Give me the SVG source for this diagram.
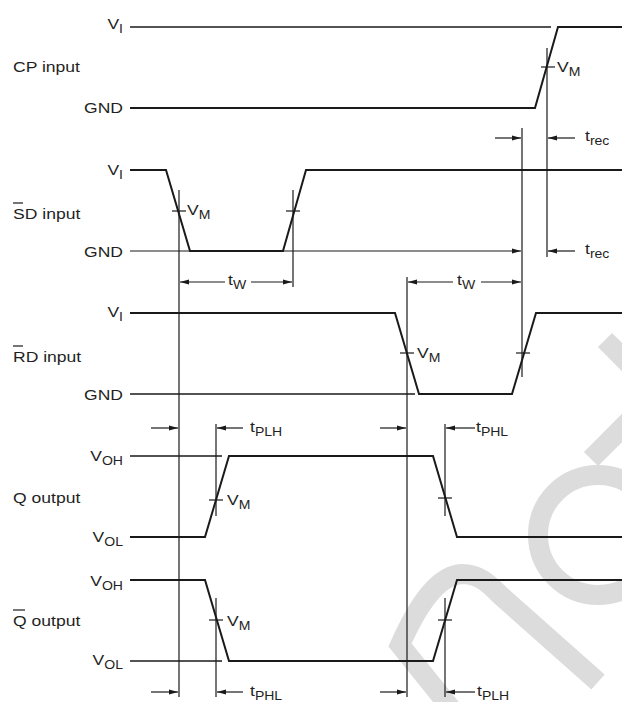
<svg xmlns="http://www.w3.org/2000/svg" width="622" height="702" viewBox="0 0 622 702">
<style>
.wave{fill:none;stroke:#1a1a1a;stroke-width:2;stroke-linejoin:miter}
.ref{fill:none;stroke:#1a1a1a;stroke-width:1.3}
.thin{fill:none;stroke:#1a1a1a;stroke-width:1.2}
.arr{fill:none;stroke:#1a1a1a;stroke-width:1.2;marker-end:url(#ah)}
.lbl{font-family:"Liberation Sans",Arial,sans-serif;font-size:15px;fill:#1f1f24}
.sub{font-size:12px}
.end{text-anchor:end}
.wm{fill:none;stroke:#dcdcdc;stroke-width:20}
</style>
<defs>
<marker id="ah" markerUnits="userSpaceOnUse" markerWidth="9" markerHeight="6" refX="9" refY="3" orient="auto">
<path d="M0,0.5 L9,3 L0,5.5 z" fill="#1a1a1a"/>
</marker>
</defs>
<rect width="622" height="702" fill="#ffffff"/>

<g id="watermark">
<path class="wm" d="M605,340 L645,380"/>
<path class="wm" d="M591,459 L640,410"/>
<circle class="wm" cx="598" cy="535" r="60"/>
<path class="wm" d="M462,722 L400,645 C420,600 440,575 462,574 C480,574 490,585 500,595 L598,682"/>
</g>

<g id="cp-input">
<text class="lbl" transform="translate(13,72) scale(1.17,1)">CP input</text>
<text class="lbl end" transform="translate(123,29) scale(1.17,1)">V<tspan class="sub" dy="4">I</tspan></text>
<text class="lbl end" transform="translate(123,113) scale(1.17,1)">GND</text>
<line class="ref" x1="130" y1="27" x2="551" y2="27"/>
<polyline class="wave" points="130,108 535,108 558,27 622,27"/>
<line class="thin" x1="541" y1="67" x2="555" y2="67"/>
<text class="lbl" transform="translate(557,72) scale(1.17,1)">V<tspan class="sub" dy="4">M</tspan></text>
</g>

<g id="sd-input">
<text class="lbl" transform="translate(13,219) scale(1.17,1)">SD input</text>
<line class="thin" x1="13" y1="203" x2="23" y2="203"/>
<text class="lbl end" transform="translate(123,175) scale(1.17,1)">V<tspan class="sub" dy="4">I</tspan></text>
<text class="lbl end" transform="translate(123,257) scale(1.17,1)">GND</text>
<polyline class="wave" points="130,170 166,170 190,251 283,251 306,170 622,170"/>
<line class="thin" x1="172" y1="211" x2="186" y2="211"/>
<line class="thin" x1="286" y1="211" x2="300" y2="211"/>
<text class="lbl" transform="translate(187,215) scale(1.17,1)">V<tspan class="sub" dy="4">M</tspan></text>
</g>

<g id="rd-input">
<text class="lbl" transform="translate(13,362) scale(1.17,1)">RD input</text>
<line class="thin" x1="13" y1="346" x2="23" y2="346"/>
<text class="lbl end" transform="translate(123,317) scale(1.17,1)">V<tspan class="sub" dy="4">I</tspan></text>
<text class="lbl end" transform="translate(123,400) scale(1.17,1)">GND</text>
<line class="ref" x1="130" y1="394" x2="415" y2="394"/>
<polyline class="wave" points="130,313 395,313 419,394 512,394 536,313 622,313"/>
<line class="thin" x1="400" y1="353" x2="414" y2="353"/>
<line class="thin" x1="516" y1="353" x2="530" y2="353"/>
<text class="lbl" transform="translate(417,358) scale(1.17,1)">V<tspan class="sub" dy="4">M</tspan></text>
</g>

<g id="q-output">
<text class="lbl" transform="translate(13,503) scale(1.17,1)">Q output</text>
<text class="lbl end" transform="translate(123,461) scale(1.17,1)">V<tspan class="sub" dy="4">OH</tspan></text>
<text class="lbl end" transform="translate(123,542) scale(1.17,1)">V<tspan class="sub" dy="4">OL</tspan></text>
<line class="ref" x1="130" y1="456" x2="222" y2="456"/>
<polyline class="wave" points="130,537 205,537 229,456 433,456 457,537 622,537"/>
<line class="thin" x1="209" y1="500" x2="223" y2="500"/>
<line class="thin" x1="438" y1="498" x2="452" y2="498"/>
<text class="lbl" transform="translate(227,505) scale(1.17,1)">V<tspan class="sub" dy="4">M</tspan></text>
</g>

<g id="qbar-output">
<text class="lbl" transform="translate(13,626) scale(1.17,1)">Q output</text>
<line class="thin" x1="13" y1="610" x2="25" y2="610"/>
<text class="lbl end" transform="translate(123,586) scale(1.17,1)">V<tspan class="sub" dy="4">OH</tspan></text>
<text class="lbl end" transform="translate(123,665) scale(1.17,1)">V<tspan class="sub" dy="4">OL</tspan></text>
<line class="ref" x1="130" y1="661" x2="222" y2="661"/>
<polyline class="wave" points="130,580 205,580 229,661 433,661 457,580 622,580"/>
<line class="thin" x1="209" y1="620" x2="223" y2="620"/>
<line class="thin" x1="438" y1="620" x2="452" y2="620"/>
<text class="lbl" transform="translate(227,626) scale(1.17,1)">V<tspan class="sub" dy="4">M</tspan></text>
</g>

<g id="connectors">
<!-- reference verticals -->
<line class="thin" x1="547" y1="48" x2="547" y2="257"/>
<line class="thin" x1="522" y1="128" x2="522" y2="377"/>
<line class="thin" x1="179" y1="190" x2="179" y2="697"/>
<line class="thin" x1="293" y1="190" x2="293" y2="287"/>
<line class="thin" x1="407" y1="277" x2="407" y2="697"/>
<line class="thin" x1="216" y1="424" x2="216" y2="516"/>
<line class="thin" x1="445" y1="424" x2="445" y2="516"/>
<line class="thin" x1="216" y1="598" x2="216" y2="697"/>
<line class="thin" x1="445" y1="598" x2="445" y2="697"/>
<!-- trec -->
<line class="arr" x1="495" y1="138" x2="521" y2="138"/>
<line class="arr" x1="575" y1="138" x2="548" y2="138"/>
<line class="arr" x1="130" y1="251" x2="521" y2="251"/>
<line class="arr" x1="575" y1="251" x2="548" y2="251"/>
<!-- tW -->
<line class="arr" x1="225" y1="282" x2="180" y2="282"/>
<line class="arr" x1="251" y1="282" x2="292" y2="282"/>
<line class="arr" x1="453" y1="282" x2="408" y2="282"/>
<line class="arr" x1="481" y1="282" x2="521" y2="282"/>
<!-- tPLH / tPHL top -->
<line class="arr" x1="151" y1="428" x2="178" y2="428"/>
<line class="arr" x1="243" y1="428" x2="217" y2="428"/>
<line class="arr" x1="380" y1="428" x2="406" y2="428"/>
<line class="arr" x1="475" y1="428" x2="446" y2="428"/>
<!-- bottom -->
<line class="arr" x1="151" y1="692" x2="178" y2="692"/>
<line class="arr" x1="243" y1="692" x2="217" y2="692"/>
<line class="arr" x1="380" y1="692" x2="406" y2="692"/>
<line class="arr" x1="475" y1="692" x2="446" y2="692"/>
</g>

<g id="timing-labels">
<text class="lbl" transform="translate(585,141) scale(1.17,1)">t<tspan class="sub" dy="4">rec</tspan></text>
<text class="lbl" transform="translate(585,254) scale(1.17,1)">t<tspan class="sub" dy="4">rec</tspan></text>
<text class="lbl" transform="translate(228,285) scale(1.17,1)">t<tspan class="sub" dy="4">W</tspan></text>
<text class="lbl" transform="translate(457,285) scale(1.17,1)">t<tspan class="sub" dy="4">W</tspan></text>
<text class="lbl" transform="translate(250,432) scale(1.17,1)">t<tspan class="sub" dy="4">PLH</tspan></text>
<text class="lbl" transform="translate(476,432) scale(1.17,1)">t<tspan class="sub" dy="4">PHL</tspan></text>
<text class="lbl" transform="translate(250,696) scale(1.17,1)">t<tspan class="sub" dy="4">PHL</tspan></text>
<text class="lbl" transform="translate(477,696) scale(1.17,1)">t<tspan class="sub" dy="4">PLH</tspan></text>
</g>
</svg>
